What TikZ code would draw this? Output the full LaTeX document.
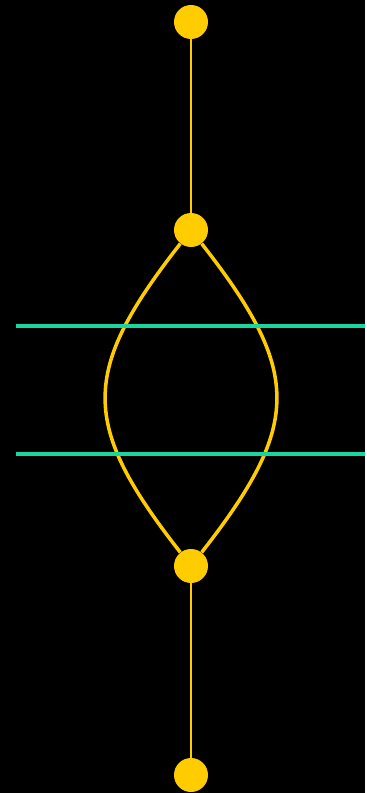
\documentclass[tikz,border=0pt]{standalone}
\usepackage{tikz}
\usetikzlibrary{positioning}
\definecolor{dotColor}{RGB}{255,204,0}
\definecolor{cutColor}{RGB}{24,214,160}
\tikzstyle{dot} = [circle, fill=dotColor, draw=none, minimum size=0.68cm, inner sep=0pt]
\tikzstyle{stem} = [dotColor, line width=1.3pt]
\tikzstyle{loopline} = [dotColor, line width=2pt]
\tikzstyle{cut} = [cutColor, line width=2.2pt]

\begin{document}
\begin{tikzpicture}[x=0.02cm, y=-0.02cm]
        \fill[black] (0,0) rectangle (365,793);
        \node (top) [dot] at (191,22) {};
        \node (upper) [dot] at (191,230) {};
        \node (lower) [dot] at (191,566) {};
        \node (bottom) [dot] at (191,775) {};
        \coordinate (cutAl) at (16,326);
        \coordinate (cutAr) at (365,326);
        \coordinate (cutBl) at (16,454);
        \coordinate (cutBr) at (365,454);

        \draw [stem] (top) -- (upper);
        \draw [stem] (lower) -- (bottom);
        \draw [loopline] (upper) .. controls (80,372) and (80,424) .. (lower);
        \draw [loopline] (upper) .. controls (302,372) and (302,424) .. (lower);
        \draw [cut] (cutAl) -- (cutAr);
        \draw [cut] (cutBl) -- (cutBr);
    \end{tikzpicture}
\end{document}
